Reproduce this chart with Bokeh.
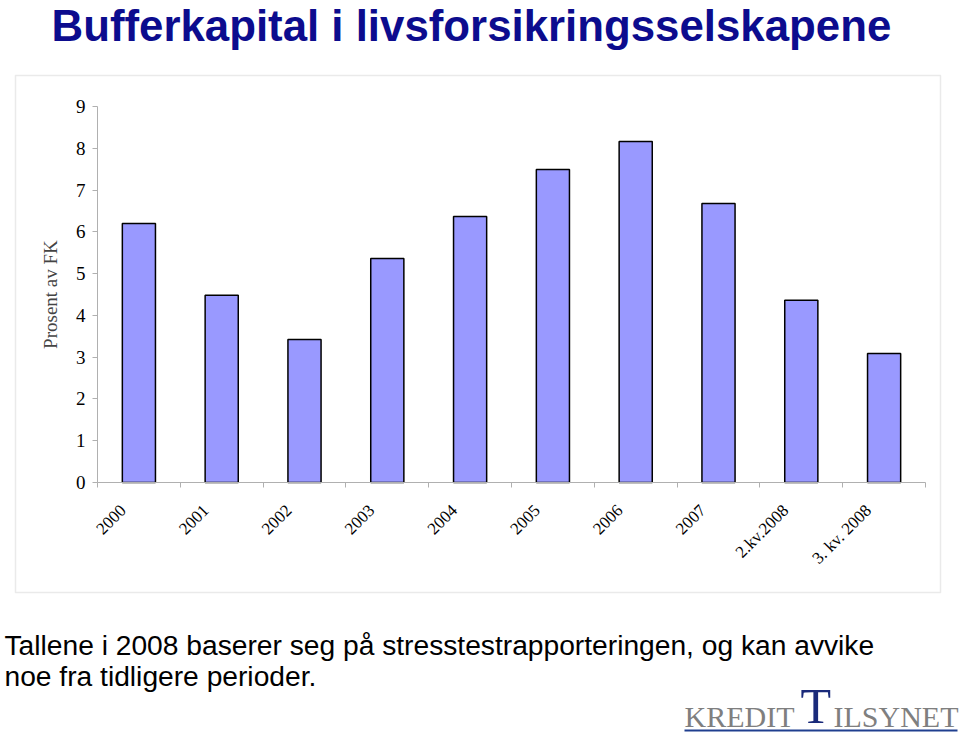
from math import pi
from bokeh.plotting import figure
from bokeh.models import Range1d, FixedTicker, Label, BoxAnnotation
from bokeh.embed import file_html
from bokeh.resources import INLINE

categories = ["2000", "2001", "2002", "2003", "2004", "2005", "2006", "2007", "2.kv.2008", "3. kv. 2008"]
values = [6.2, 4.48, 3.42, 5.36, 6.37, 7.49, 8.16, 6.68, 4.36, 3.09]
y_ticks = [0, 1, 2, 3, 4, 5, 6, 7, 8, 9]

title_text = "Bufferkapital i livsforsikringsselskapene"
note_line1 = "Tallene i 2008 baserer seg på stresstestrapporteringen, og kan avvike"
note_line2 = "noe fra tidligere perioder."
y_label = "Prosent av FK"

W, H = 960, 735
# plot area in page pixels
PL, PR, PT, PB = 97, 925, 106, 482
n = len(categories)
ymax = y_ticks[-1]
xppu = (PR - PL) / n
yppu = (PB - PT) / ymax

def sx(px):
    return px

def sy(py, size=0):
    # baseline correction for alphabetic baseline rendering
    return H - (py - 0.37 * size)

centers = [i + 0.5 for i in range(n)]
label_pos = [c - 0.19 for c in centers]

p = figure(width=W, height=H, output_backend="svg", toolbar_location=None,
           x_range=Range1d(-PL / xppu, (W - PL) / xppu),
           y_range=Range1d(-(H - PB) / yppu, PB / yppu),
           min_border=0)
p.outline_line_color = None
p.xgrid.grid_line_color = None
p.ygrid.grid_line_color = None
p.background_fill_color = "white"
p.border_fill_color = "white"

SERIF = "'Liberation Serif', 'Times New Roman', serif"
SANS = "'Liberation Sans', Arial, sans-serif"

# chart border
p.add_layout(BoxAnnotation(left=sx(15), right=sx(940), top=sy(75), bottom=sy(592),
                           left_units="screen", right_units="screen", top_units="screen", bottom_units="screen",
                           fill_color="white", fill_alpha=1, line_color="#b8b8b8", line_width=1.5, level="underlay"))

p.vbar(x=centers, top=values, width=0.4, fill_color="#9999ff", line_color="black", line_width=1.5)

# y axis
ya = p.yaxis[0]
ya.fixed_location = 0
ya.bounds = (0, ymax)
ya.ticker = FixedTicker(ticks=y_ticks)
ya.axis_line_color = "#b0b0b0"
ya.major_tick_line_color = "#b0b0b0"
ya.major_tick_out = 5
ya.major_tick_in = 0
ya.minor_tick_line_color = None
ya.major_label_text_font = SERIF
ya.major_label_text_font_size = "19px"
ya.major_label_text_color = "black"
ya.major_label_standoff = 7
ya.axis_label = y_label
ya.axis_label_text_font = SERIF
ya.axis_label_text_font_style = "normal"
ya.axis_label_text_font_size = "19px"
ya.axis_label_standoff = 12

# x axis
xa = p.xaxis[0]
xa.fixed_location = 0
xa.bounds = (0, n)
xa.ticker = FixedTicker(ticks=label_pos, minor_ticks=list(range(n + 1)))
xa.major_label_overrides = {c: lab for c, lab in zip(label_pos, categories)}
xa.major_label_orientation = pi / 4
xa.axis_line_color = "#b0b0b0"
xa.major_tick_line_color = None
xa.minor_tick_line_color = "#b0b0b0"
xa.minor_tick_out = 5
xa.minor_tick_in = 0
xa.major_label_text_font = SERIF
xa.major_label_text_font_size = "17px"
xa.major_label_text_color = "black"
xa.major_label_standoff = 19

# title
TS = 43.8
p.add_layout(Label(x=sx(51), y=sy(41, TS), x_units="screen", y_units="screen", text=title_text,
                   text_font=SANS, text_font_style="bold", text_font_size=f"{TS}px",
                   text_color="#0c0c8e", text_baseline="alphabetic"))

# notes
NS = 28.2
for txt, base in [(note_line1, 655), (note_line2, 686)]:
    p.add_layout(Label(x=sx(4), y=sy(base, NS), x_units="screen", y_units="screen", text=txt,
                       text_font=SANS, text_font_size=f"{NS}px", text_color="black",
                       text_baseline="alphabetic"))

# logo
LS, TSZ = 30, 50
p.add_layout(BoxAnnotation(left=sx(684), right=sx(957), top=sy(729), bottom=sy(731),
                           left_units="screen", right_units="screen", top_units="screen", bottom_units="screen",
                           fill_color="#1f3f8f", fill_alpha=1, line_color=None))
p.add_layout(Label(x=sx(684), y=sy(727, LS), x_units="screen", y_units="screen", text="KREDIT",
                   text_font=SERIF, text_font_size=f"{LS}px", text_color="#7f7f7f", text_baseline="alphabetic"))
p.add_layout(Label(x=sx(800), y=sy(723.5, TSZ), x_units="screen", y_units="screen", text="T",
                   text_font=SERIF, text_font_size=f"{TSZ}px", text_color="#1a2a7a", text_baseline="alphabetic"))
p.add_layout(Label(x=sx(833), y=sy(727, LS), x_units="screen", y_units="screen", text="ILSYNET",
                   text_font=SERIF, text_font_size=f"{LS}px", text_color="#7f7f7f", text_baseline="alphabetic"))

open("out.html", "w").write(file_html(p, INLINE))
